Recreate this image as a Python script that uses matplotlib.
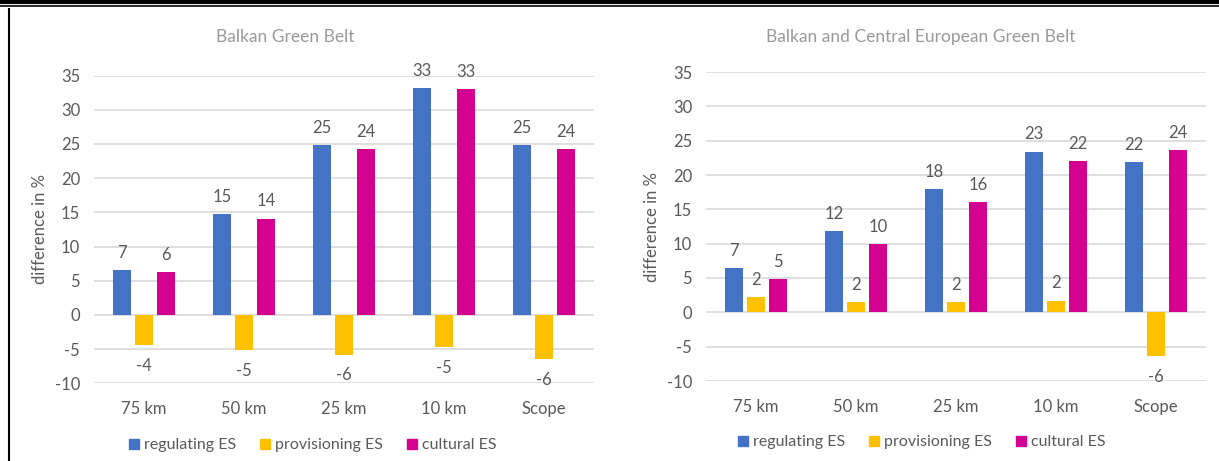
import numpy as np
import matplotlib.pyplot as plt
from matplotlib.lines import Line2D

plt.rcParams['font.family'] = ['Lato', 'DejaVu Sans']
plt.rcParams['axes.unicode_minus'] = False

categories = ["75 km", "50 km", "25 km", "10 km", "Scope"]
series_names = ["regulating ES", "provisioning ES", "cultural ES"]
colors = ["#4472C4", "#FFC000", "#D4008F"]

# Balkan Green Belt
balkan_reg = [6.6, 14.7, 24.8, 33.2, 24.8]
balkan_prov = [-4.4, -5.2, -5.8, -4.7, -6.5]
balkan_cult = [6.3, 14.1, 24.2, 33.0, 24.3]
balkan_labels = [[7, 15, 25, 33, 25], [-4, -5, -6, -5, -6], [6, 14, 24, 33, 24]]

# Balkan and Central European Green Belt
central_reg = [6.5, 11.8, 17.9, 23.4, 21.9]
central_prov = [2.2, 1.5, 1.5, 1.7, -6.4]
central_cult = [4.9, 9.9, 16.1, 22.0, 23.6]
central_labels = [[7, 12, 18, 23, 22], [2, 2, 2, 2, -6], [5, 10, 16, 22, 24]]

W, H = 1219, 461
fig = plt.figure(figsize=(W / 100, H / 100), dpi=100)

txt = "#595959"
grid = "#D9D9D9"


def draw(ax, title, data, labels, title_xy, legend_xy):
    x = np.arange(len(categories))
    w = 0.176
    step = 0.222
    for i, vals in enumerate(data):
        pos = x + (i - 1) * step
        ax.bar(pos, vals, width=w, color=colors[i], zorder=3, label=series_names[i])
        for p, v, lab in zip(pos, vals, labels[i]):
            if v >= 0:
                ax.text(p, v + 2.5, str(lab), ha="center", va="center", fontsize=12, color=txt)
            else:
                ax.text(p, v - 3.0, str(lab), ha="center", va="center", fontsize=12, color=txt)
    ax.set_ylim(-10, 35)
    ax.set_xlim(-0.5, len(categories) - 0.5)
    ax.set_yticks(range(-10, 36, 5))
    ax.set_xticks(x)
    ax.set_xticklabels(categories)
    ax.tick_params(axis="both", length=0, labelsize=12, labelcolor=txt)
    ax.tick_params(axis="x", pad=13)
    ax.tick_params(axis="y", pad=10)
    for s in ax.spines.values():
        s.set_visible(False)
    ax.grid(axis="y", color=grid, linewidth=1.2, zorder=0)
    ax.set_ylabel("difference in %", fontsize=12, color=txt, labelpad=5)
    fig.text(title_xy[0] / W, 1 - title_xy[1] / H, title, fontsize=12.5, color="#999999",
             ha="center", va="center")
    handles = [Line2D([], [], marker="s", linestyle="", markersize=7, color=c) for c in colors]
    fig.legend(handles, series_names, loc="center",
               bbox_to_anchor=(legend_xy[0] / W, 1 - legend_xy[1] / H),
               ncol=3, frameon=False, fontsize=11.5, labelcolor=txt,
               handlelength=0.8, handletextpad=0.25, columnspacing=1.4)


def axes_px(x0, x1, ytop, ybot):
    return fig.add_axes([x0 / W, 1 - ybot / H, (x1 - x0) / W, (ybot - ytop) / H])


ax1 = axes_px(94, 594, 75.6, 383.3)
draw(ax1, "Balkan Green Belt", [balkan_reg, balkan_prov, balkan_cult], balkan_labels,
     (285, 37), (312, 445))

ax2 = axes_px(706, 1206, 72, 381)
draw(ax2, "Balkan and Central European Green Belt", [central_reg, central_prov, central_cult],
     central_labels, (921, 37), (921, 442))

# frame lines of the source figure
fig.add_artist(Line2D([0, 1], [1 - 2 / H, 1 - 2 / H], color="black", linewidth=3))
fig.add_artist(Line2D([0, 1], [1 - 6.5 / H, 1 - 6.5 / H], color="black", linewidth=1.2))
fig.add_artist(Line2D([8.5 / W, 8.5 / W], [0, 1 - 9 / H], color="black", linewidth=1.5))

fig.savefig("out.png", dpi=100)
